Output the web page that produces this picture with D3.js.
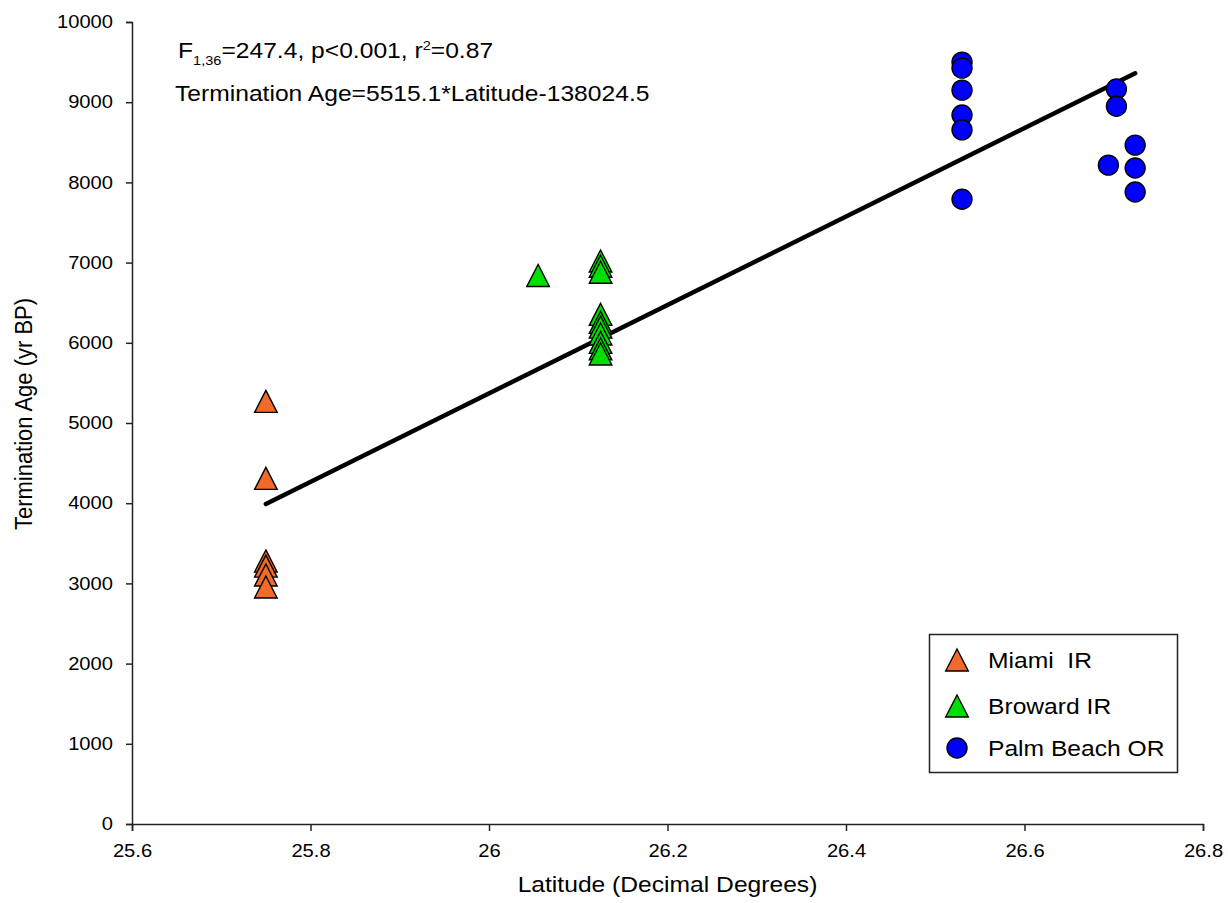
<!DOCTYPE html>
<html>
<head>
<meta charset="utf-8">
<script src="https://cdn.jsdelivr.net/npm/d3@7"></script>
<style>
  html, body { margin: 0; padding: 0; background: #fff; }
  svg { display: block; font-family: "Liberation Sans", Arial, sans-serif; }
  text { white-space: pre; fill: #000; }
</style>
</head>
<body>
<svg id="chart" width="1228" height="903"></svg>
<script>
// ---- data ----
const miamiLat = [25.75, 25.75, 25.75, 25.75, 25.75, 25.75];
const miamiAge = [5270, 4310, 3280, 3215, 3105, 2955];

const browardLat = [26.055, 26.125, 26.125, 26.125, 26.125, 26.125, 26.125, 26.125, 26.125, 26.125, 26.125];
const browardAge = [6840, 7020, 6955, 6880, 6355, 6255, 6195, 6110, 6005, 5925, 5860];

const palmLat = [26.53, 26.53, 26.53, 26.53, 26.53, 26.53, 26.703, 26.703, 26.694, 26.724, 26.724, 26.724];
const palmAge = [9500, 9425, 9150, 8840, 8655, 7790, 9165, 8950, 8215, 8465, 8180, 7880];

const regSlope = 5515.1;
const regIntercept = -138024.5;

const xTicks = [25.6, 25.8, 26.0, 26.2, 26.4, 26.6, 26.8];
const xTickLabels = ["25.6", "25.8", "26", "26.2", "26.4", "26.6", "26.8"];
const yTicks = [0, 1000, 2000, 3000, 4000, 5000, 6000, 7000, 8000, 9000, 10000];

const seriesNames = ["Miami  IR", "Broward IR", "Palm Beach OR"];
const seriesColors = ["#F26A2A", "#00E000", "#0000FF"];
const seriesShapes = ["triangle", "triangle", "circle"];

const xTitle = "Latitude (Decimal Degrees)";
const yTitle = "Termination Age (yr BP)";
const statLine2 = "Termination Age=5515.1*Latitude-138024.5";

// ---- drawing ----
const SX = 1.12; // horizontal text stretch of the reference
const svg = d3.select("#chart");
const x = d3.scaleLinear().domain([25.6, 26.8]).range([132, 1203]);
const y = d3.scaleLinear().domain([0, 10000]).range([824, 22]);

// axes
const xAxis = d3.axisBottom(x).tickValues(xTicks)
  .tickFormat((d, i) => xTickLabels[i]).tickSizeOuter(0).tickSize(7).tickPadding(0);
const gx = svg.append("g").attr("transform", `translate(0,${y(0)})`).call(xAxis);
gx.select(".domain").attr("stroke", "#222").attr("stroke-width", 1.5);
gx.selectAll(".tick line").attr("stroke", "#222").attr("stroke-width", 1.5);
gx.selectAll(".tick text")
  .attr("font-size", 18).attr("font-family", "Liberation Sans, Arial, sans-serif")
  .attr("fill", "#000").attr("y", 20).attr("dy", "0.71em")
  .attr("transform", `scale(${SX},1)`);

const yAxis = d3.axisLeft(y).tickValues(yTicks).tickFormat(d3.format("d"))
  .tickSizeOuter(0).tickSize(6);
const gy = svg.append("g").attr("transform", `translate(${x(25.6)},0)`).call(yAxis);
gy.select(".domain").attr("stroke", "#222").attr("stroke-width", 1.5);
gy.selectAll(".tick line").attr("stroke", "#222").attr("stroke-width", 1.5);
gy.selectAll(".tick text")
  .attr("font-size", 18).attr("font-family", "Liberation Sans, Arial, sans-serif")
  .attr("fill", "#000").attr("x", -19 / SX).attr("dy", "0.32em")
  .attr("transform", `scale(${SX},1)`);

// axis titles
svg.append("text")
  .attr("transform", `translate(${(x.range()[0] + x.range()[1]) / 2},892) scale(${SX},1)`)
  .attr("text-anchor", "middle").attr("font-size", 22).text(xTitle);
svg.append("text")
  .attr("transform", `translate(32,414) scale(${SX},1) rotate(-90)`)
  .attr("text-anchor", "middle").attr("font-size", 22).text(yTitle);

// regression line
const allLat = miamiLat.concat(browardLat, palmLat);
const latExt = d3.extent(allLat);
const regPts = latExt.map(l => [l, regSlope * l + regIntercept]);
svg.append("path")
  .attr("d", d3.line().x(d => x(d[0])).y(d => y(d[1]))(regPts))
  .attr("stroke", "#000").attr("stroke-width", 4.5).attr("fill", "none")
  .attr("stroke-linecap", "round");

// markers
const triPath = "M0,-11 L11.3,11 L-11.3,11 Z";
function drawMarker(g, shape, color) {
  if (shape === "circle") {
    g.append("circle").attr("r", 10).attr("fill", color)
      .attr("stroke", "#000").attr("stroke-width", 1.4);
  } else {
    g.append("path").attr("d", triPath).attr("fill", color)
      .attr("stroke", "#000").attr("stroke-width", 1.4).attr("stroke-linejoin", "miter");
  }
}
const series = [
  { lat: miamiLat, age: miamiAge },
  { lat: browardLat, age: browardAge },
  { lat: palmLat, age: palmAge }
];
series.forEach((s, si) => {
  const pts = s.lat.map((l, i) => ({ lat: l, age: s.age[i] }));
  svg.append("g").selectAll("g").data(pts).join("g")
    .attr("transform", d => `translate(${x(d.lat)},${y(d.age)})`)
    .each(function () { drawMarker(d3.select(this), seriesShapes[si], seriesColors[si]); });
});

// statistics annotation
const t1 = svg.append("text").attr("transform", `translate(178,58) scale(${SX},1)`).attr("font-size", 22);
t1.append("tspan").text("F");
t1.append("tspan").attr("font-size", 13).attr("dy", 7).text("1,36");
t1.append("tspan").attr("dy", -7).text("=247.4, p<0.001, r");
t1.append("tspan").attr("font-size", 13).attr("dy", -8).text("2");
t1.append("tspan").attr("dy", 8).text("=0.87");
svg.append("text").attr("transform", `translate(175,101) scale(${SX},1)`)
  .attr("font-size", 22).text(statLine2);

// legend
const lg = svg.append("g");
lg.append("rect").attr("x", 929.5).attr("y", 634.5).attr("width", 248).attr("height", 138)
  .attr("fill", "#fff").attr("stroke", "#222").attr("stroke-width", 1.5);
const legendY = [660, 706, 748];
seriesNames.forEach((name, i) => {
  const g = lg.append("g").attr("transform", `translate(957,${legendY[i]})`);
  drawMarker(g, seriesShapes[i], seriesColors[i]);
  lg.append("text").attr("transform", `translate(988,${legendY[i] + 8}) scale(${SX},1)`)
    .attr("font-size", 22).text(name);
});
</script>
</body>
</html>
